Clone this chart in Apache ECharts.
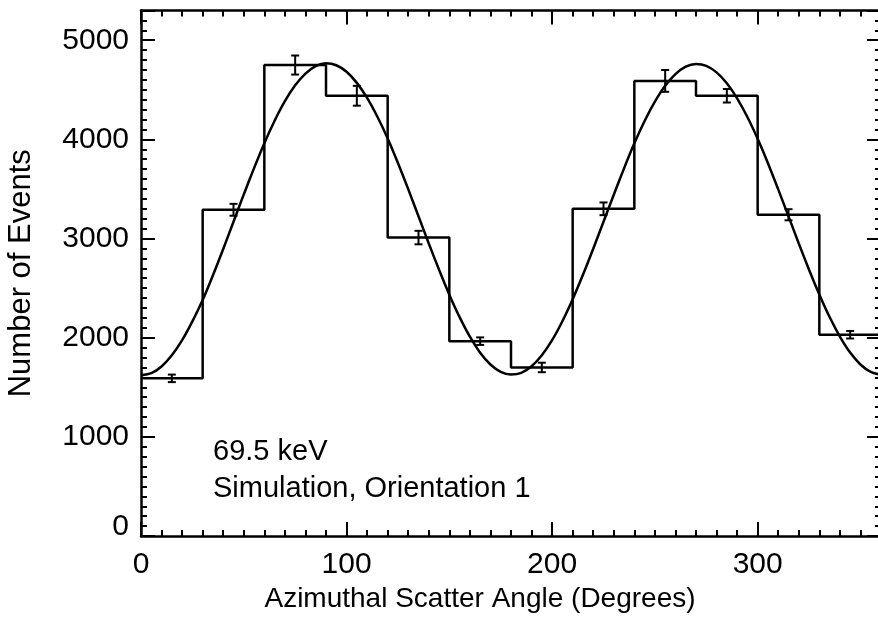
<!DOCTYPE html>
<html>
<head>
<meta charset="utf-8">
<script src="https://cdn.jsdelivr.net/npm/echarts@6/dist/echarts.min.js"></script>
<style>
  html, body { margin: 0; padding: 0; background: #fff; }
  #chart { width: 878px; height: 620px; }
</style>
</head>
<body>
<div id="chart"></div>
<script>
// histogram bins (left edges, degrees) and counts per bin
const binStart = [0, 30, 60, 90, 120, 150, 180, 210, 240, 270, 300, 330]
const binCenters = [15, 45, 75, 105, 135, 165, 195, 225, 255, 285, 315, 345]
const counts = [1590, 3290, 4750, 4440, 3010, 1965, 1700, 3300, 4590, 4440, 3240, 2030]
const errors = [38, 60, 96, 100, 68, 38, 48, 64, 110, 68, 56, 38]

// fitted curve, every 5 degrees
const fitAngles = [0, 5, 10, 15, 20, 25, 30, 35, 40, 45, 50, 55, 60, 65, 70, 75, 80, 85, 90,
  95, 100, 105, 110, 115, 120, 125, 130, 135, 140, 145, 150, 155, 160, 165, 170, 175, 180,
  185, 190, 195, 200, 205, 210, 215, 220, 225, 230, 235, 240, 245, 250, 255, 260, 265, 270,
  275, 280, 285, 290, 295, 300, 305, 310, 315, 320, 325, 330, 335, 340, 345, 350, 355, 360]
const fitValues = [1622, 1642, 1710, 1822, 1975, 2165, 2380, 2630, 2895, 3170, 3445, 3710, 3962, 4188, 4385, 4545, 4664, 4740, 4768,
  4748, 4682, 4570, 4418, 4228, 4010, 3762, 3498, 3225, 2950, 2685, 2434, 2207, 2010, 1849, 1730, 1655, 1628,
  1645, 1712, 1823, 1975, 2166, 2388, 2634, 2897, 3170, 3442, 3708, 3960, 4185, 4380, 4540, 4658, 4733, 4760,
  4742, 4676, 4566, 4414, 4226, 4006, 3760, 3496, 3224, 2950, 2686, 2436, 2208, 2012, 1850, 1730, 1655, 1626]

const xTickLabels = [0, 100, 200, 300]
const yTickLabels = [0, 1000, 2000, 3000, 4000, 5000]

const FONT = '"Liberation Sans", Arial, Helvetica, sans-serif'
const X_MAX = 360, Y_MAX = 5300
const RECT = { left: 141, top: 10.5, width: 740, height: 525.5, outerBoundsMode: 'none' }

const histData = binStart.map((x, i) => [x, counts[i]])
histData.push([X_MAX, counts[counts.length - 1]])

// plain axis: ticks inward, no labels
const ax = (gridIndex, position, max, interval, tickLen, showLine, extra) => Object.assign({
    type: 'value', gridIndex, position, min: 0, max, interval,
    splitLine: { show: false },
    axisLine: { show: showLine, onZero: false, lineStyle: { color: '#000', width: 2.5 } },
    axisTick: { show: true, inside: true, length: tickLen, lineStyle: { color: '#000', width: 2 } },
    axisLabel: { show: false }
}, extra || {})

const xAxes = [
    ax(0, 'bottom', X_MAX, 100, 14, true, {
        name: 'Azimuthal Scatter Angle (Degrees)', nameLocation: 'middle', nameGap: 42,
        nameTextStyle: { fontFamily: FONT, fontSize: 28, color: '#000', padding: [0, 62, 0, 0] },
        axisLabel: {
            show: true, margin: 14, color: '#000', fontFamily: FONT, fontSize: 30,
            formatter: v => xTickLabels.indexOf(v) >= 0 ? '' + v : ''
        }
    }),
    ax(0, 'top', X_MAX, 100, 14, true),
    // minor ticks, second grid on the same rectangle
    ax(1, 'bottom', X_MAX, 10, 6, false),
    ax(1, 'top', X_MAX, 10, 6, false)
]

const yAxes = [
    ax(0, 'left', Y_MAX, 1000, 14, true, {
        name: 'Number of Events', nameLocation: 'middle', nameGap: 104,
        nameTextStyle: { fontFamily: FONT, fontSize: 31, color: '#000' },
        axisLabel: {
            show: true, margin: 12, color: '#000', fontFamily: FONT, fontSize: 30,
            formatter: v => v === 0 ? '{z|0}' : (yTickLabels.indexOf(v) >= 0 ? '' + v : ''),
            rich: { z: { fontFamily: FONT, fontSize: 30, color: '#000', padding: [0, 0, 18, 0] } }
        }
    }),
    ax(0, 'right', Y_MAX, 1000, 14, true),
    ax(1, 'left', Y_MAX, 100, 6, false),
    ax(1, 'right', Y_MAX, 100, 6, false)
]

const option = {
    animation: false,
    backgroundColor: '#fff',
    grid: [RECT, Object.assign({}, RECT)],
    xAxis: xAxes,
    yAxis: yAxes,
    graphic: [
        { type: 'text', x: 213, y: 452, style: { text: '69.5 keV', font: '29px ' + FONT, fill: '#000', verticalAlign: 'middle' } },
        { type: 'text', x: 213, y: 489, style: { text: 'Simulation, Orientation 1', font: '29px ' + FONT, fill: '#000', verticalAlign: 'middle' } }
    ],
    series: [{
        type: 'line',
        step: 'end',
        symbol: 'none',
        data: histData,
        lineStyle: { color: '#000', width: 2.5 }
    }, {
        type: 'line',
        smooth: 0.3,
        symbol: 'none',
        data: fitAngles.map((x, i) => [x, fitValues[i]]),
        lineStyle: { color: '#000', width: 2.5 }
    }, {
        type: 'custom',
        data: binCenters.map((x, i) => [x, counts[i], errors[i]]),
        renderItem: (params, api) => {
            const x = api.value(0), y = api.value(1), e = api.value(2)
            const top = api.coord([x, y + e])
            const bot = api.coord([x, y - e])
            const hw = 4
            const st = { stroke: '#000', lineWidth: 2 }
            return { type: 'group', children: [
                { type: 'line', shape: { x1: top[0], y1: top[1], x2: bot[0], y2: bot[1] }, style: st },
                { type: 'line', shape: { x1: top[0] - hw, y1: top[1], x2: top[0] + hw, y2: top[1] }, style: st },
                { type: 'line', shape: { x1: bot[0] - hw, y1: bot[1], x2: bot[0] + hw, y2: bot[1] }, style: st }
            ] }
        }
    }]
}

const chart = echarts.init(document.getElementById('chart'))
chart.setOption(option)
</script>
</body>
</html>
